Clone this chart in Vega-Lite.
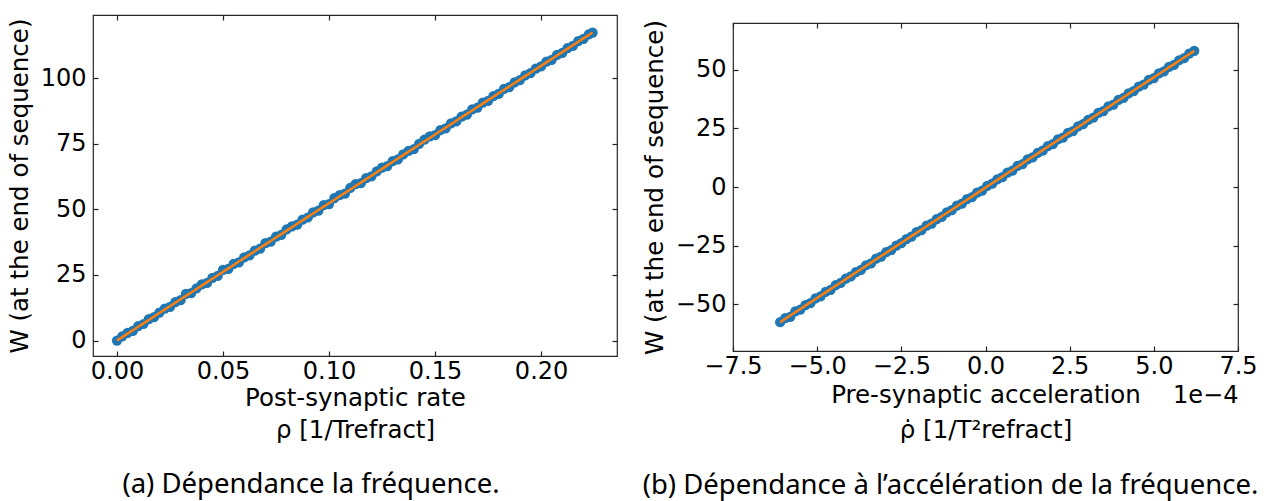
{
  "$schema": "https://vega.github.io/schema/vega-lite/v6.json",
  "background": "white",
  "padding": {"left": 6, "top": 12, "right": 5, "bottom": 2},
  "bounds": "full",
  "spacing": 22,
  "config": {
    "font": "DejaVu Sans",
    "view": {"stroke": "#262626", "strokeWidth": 1.2},
    "axis": {
      "grid": false,
      "domain": false,
      "tickColor": "#222222",
      "tickWidth": 1.2,
      "tickSize": -5,
      "labelFont": "DejaVu Sans",
      "labelFontSize": 24,
      "labelColor": "#000000",
      "titleFont": "DejaVu Sans",
      "titleFontSize": 24.5,
      "titleFontWeight": "normal",
      "titleColor": "#000000",
      "labelFlush": false,
      "labelOverlap": false
    }
  },
  "datasets": {
    "a": [
      {"x": 0.0000, "w": 0.0, "fit": 0.0},
      {"x": 0.0025, "w": 1.6, "fit": 1.31},
      {"x": 0.0050, "w": 2.9, "fit": 2.62},
      {"x": 0.0075, "w": 3.7, "fit": 3.93},
      {"x": 0.0100, "w": 5.5, "fit": 5.24},
      {"x": 0.0125, "w": 6.3, "fit": 6.55},
      {"x": 0.0150, "w": 8.2, "fit": 7.85},
      {"x": 0.0175, "w": 8.9, "fit": 9.16},
      {"x": 0.0200, "w": 10.6, "fit": 10.47},
      {"x": 0.0225, "w": 12.2, "fit": 11.78},
      {"x": 0.0250, "w": 12.8, "fit": 13.09},
      {"x": 0.0275, "w": 14.6, "fit": 14.40},
      {"x": 0.0300, "w": 15.4, "fit": 15.71},
      {"x": 0.0325, "w": 17.8, "fit": 17.02},
      {"x": 0.0350, "w": 18.1, "fit": 18.33},
      {"x": 0.0375, "w": 19.9, "fit": 19.64},
      {"x": 0.0400, "w": 21.4, "fit": 20.94},
      {"x": 0.0425, "w": 22.0, "fit": 22.25},
      {"x": 0.0450, "w": 23.9, "fit": 23.56},
      {"x": 0.0475, "w": 24.6, "fit": 24.87},
      {"x": 0.0500, "w": 26.9, "fit": 26.18},
      {"x": 0.0525, "w": 27.3, "fit": 27.49},
      {"x": 0.0550, "w": 29.2, "fit": 28.80},
      {"x": 0.0575, "w": 29.8, "fit": 30.11},
      {"x": 0.0600, "w": 31.7, "fit": 31.42},
      {"x": 0.0625, "w": 32.5, "fit": 32.73},
      {"x": 0.0650, "w": 34.3, "fit": 34.03},
      {"x": 0.0675, "w": 35.0, "fit": 35.34},
      {"x": 0.0700, "w": 37.1, "fit": 36.65},
      {"x": 0.0725, "w": 37.7, "fit": 37.96},
      {"x": 0.0750, "w": 39.6, "fit": 39.27},
      {"x": 0.0775, "w": 40.3, "fit": 40.58},
      {"x": 0.0800, "w": 42.4, "fit": 41.89},
      {"x": 0.0825, "w": 43.5, "fit": 43.20},
      {"x": 0.0850, "w": 44.2, "fit": 44.51},
      {"x": 0.0875, "w": 46.1, "fit": 45.82},
      {"x": 0.0900, "w": 46.9, "fit": 47.12},
      {"x": 0.0925, "w": 48.9, "fit": 48.43},
      {"x": 0.0950, "w": 49.5, "fit": 49.74},
      {"x": 0.0975, "w": 51.6, "fit": 51.05},
      {"x": 0.1000, "w": 52.0, "fit": 52.36},
      {"x": 0.1025, "w": 54.3, "fit": 53.67},
      {"x": 0.1050, "w": 55.4, "fit": 54.98},
      {"x": 0.1075, "w": 56.0, "fit": 56.29},
      {"x": 0.1100, "w": 58.2, "fit": 57.60},
      {"x": 0.1125, "w": 59.6, "fit": 58.91},
      {"x": 0.1150, "w": 60.0, "fit": 60.21},
      {"x": 0.1175, "w": 61.9, "fit": 61.52},
      {"x": 0.1200, "w": 62.6, "fit": 62.83},
      {"x": 0.1225, "w": 64.5, "fit": 64.14},
      {"x": 0.1250, "w": 65.9, "fit": 65.45},
      {"x": 0.1275, "w": 66.5, "fit": 66.76},
      {"x": 0.1300, "w": 68.4, "fit": 68.07},
      {"x": 0.1325, "w": 69.1, "fit": 69.38},
      {"x": 0.1350, "w": 71.0, "fit": 70.69},
      {"x": 0.1375, "w": 72.3, "fit": 72.00},
      {"x": 0.1400, "w": 73.0, "fit": 73.30},
      {"x": 0.1425, "w": 75.0, "fit": 74.61},
      {"x": 0.1450, "w": 76.6, "fit": 75.92},
      {"x": 0.1475, "w": 77.8, "fit": 77.23},
      {"x": 0.1500, "w": 78.3, "fit": 78.54},
      {"x": 0.1525, "w": 80.2, "fit": 79.85},
      {"x": 0.1550, "w": 80.9, "fit": 81.16},
      {"x": 0.1575, "w": 82.8, "fit": 82.47},
      {"x": 0.1600, "w": 83.5, "fit": 83.78},
      {"x": 0.1625, "w": 85.4, "fit": 85.09},
      {"x": 0.1650, "w": 86.1, "fit": 86.39},
      {"x": 0.1675, "w": 88.1, "fit": 87.70},
      {"x": 0.1700, "w": 88.8, "fit": 89.01},
      {"x": 0.1725, "w": 90.7, "fit": 90.32},
      {"x": 0.1750, "w": 91.4, "fit": 91.63},
      {"x": 0.1775, "w": 93.2, "fit": 92.94},
      {"x": 0.1800, "w": 94.0, "fit": 94.25},
      {"x": 0.1825, "w": 95.9, "fit": 95.56},
      {"x": 0.1850, "w": 96.6, "fit": 96.87},
      {"x": 0.1875, "w": 98.4, "fit": 98.18},
      {"x": 0.1900, "w": 99.3, "fit": 99.48},
      {"x": 0.1925, "w": 101.1, "fit": 100.79},
      {"x": 0.1950, "w": 101.9, "fit": 102.10},
      {"x": 0.1975, "w": 103.7, "fit": 103.41},
      {"x": 0.2000, "w": 104.5, "fit": 104.72},
      {"x": 0.2025, "w": 106.3, "fit": 106.03},
      {"x": 0.2050, "w": 107.0, "fit": 107.34},
      {"x": 0.2075, "w": 108.9, "fit": 108.65},
      {"x": 0.2100, "w": 109.7, "fit": 109.96},
      {"x": 0.2125, "w": 111.5, "fit": 111.27},
      {"x": 0.2150, "w": 112.3, "fit": 112.57},
      {"x": 0.2175, "w": 114.1, "fit": 113.88},
      {"x": 0.2200, "w": 115.0, "fit": 115.19},
      {"x": 0.2225, "w": 116.7, "fit": 116.50},
      {"x": 0.2243, "w": 117.4, "fit": 117.44}
    ],
    "b": [
      {"x": -6.10, "w": -57.7, "fit": -57.70},
      {"x": -5.95, "w": -56.0, "fit": -56.29},
      {"x": -5.80, "w": -55.4, "fit": -54.88},
      {"x": -5.65, "w": -53.1, "fit": -53.46},
      {"x": -5.50, "w": -52.3, "fit": -52.05},
      {"x": -5.35, "w": -50.4, "fit": -50.64},
      {"x": -5.20, "w": -49.6, "fit": -49.23},
      {"x": -5.05, "w": -47.5, "fit": -47.81},
      {"x": -4.90, "w": -46.7, "fit": -46.40},
      {"x": -4.75, "w": -44.8, "fit": -44.99},
      {"x": -4.60, "w": -43.9, "fit": -43.58},
      {"x": -4.45, "w": -41.9, "fit": -42.17},
      {"x": -4.30, "w": -40.9, "fit": -40.75},
      {"x": -4.15, "w": -39.1, "fit": -39.34},
      {"x": -4.00, "w": -38.2, "fit": -37.93},
      {"x": -3.85, "w": -36.3, "fit": -36.52},
      {"x": -3.70, "w": -35.4, "fit": -35.10},
      {"x": -3.55, "w": -33.4, "fit": -33.69},
      {"x": -3.40, "w": -32.6, "fit": -32.28},
      {"x": -3.25, "w": -30.6, "fit": -30.87},
      {"x": -3.10, "w": -29.7, "fit": -29.46},
      {"x": -2.95, "w": -27.8, "fit": -28.04},
      {"x": -2.80, "w": -26.9, "fit": -26.63},
      {"x": -2.65, "w": -25.0, "fit": -25.22},
      {"x": -2.50, "w": -24.0, "fit": -23.81},
      {"x": -2.35, "w": -22.2, "fit": -22.39},
      {"x": -2.20, "w": -21.2, "fit": -20.98},
      {"x": -2.05, "w": -19.3, "fit": -19.57},
      {"x": -1.90, "w": -18.4, "fit": -18.16},
      {"x": -1.75, "w": -16.5, "fit": -16.74},
      {"x": -1.60, "w": -15.6, "fit": -15.33},
      {"x": -1.45, "w": -13.7, "fit": -13.92},
      {"x": -1.30, "w": -12.8, "fit": -12.51},
      {"x": -1.15, "w": -10.8, "fit": -11.10},
      {"x": -1.00, "w": -9.9, "fit": -9.68},
      {"x": -0.85, "w": -8.0, "fit": -8.27},
      {"x": -0.70, "w": -7.1, "fit": -6.86},
      {"x": -0.55, "w": -5.2, "fit": -5.45},
      {"x": -0.40, "w": -4.3, "fit": -4.03},
      {"x": -0.25, "w": -2.4, "fit": -2.62},
      {"x": -0.10, "w": -1.5, "fit": -1.21},
      {"x": 0.05, "w": 0.5, "fit": 0.20},
      {"x": 0.20, "w": 1.4, "fit": 1.61},
      {"x": 0.35, "w": 3.3, "fit": 3.03},
      {"x": 0.50, "w": 4.2, "fit": 4.44},
      {"x": 0.65, "w": 6.1, "fit": 5.85},
      {"x": 0.80, "w": 7.0, "fit": 7.26},
      {"x": 0.95, "w": 9.0, "fit": 8.67},
      {"x": 1.10, "w": 9.8, "fit": 10.09},
      {"x": 1.25, "w": 11.8, "fit": 11.50},
      {"x": 1.40, "w": 12.6, "fit": 12.91},
      {"x": 1.55, "w": 14.6, "fit": 14.32},
      {"x": 1.70, "w": 15.5, "fit": 15.74},
      {"x": 1.85, "w": 17.4, "fit": 17.15},
      {"x": 2.00, "w": 18.3, "fit": 18.56},
      {"x": 2.15, "w": 20.3, "fit": 19.97},
      {"x": 2.30, "w": 21.1, "fit": 21.38},
      {"x": 2.45, "w": 23.1, "fit": 22.80},
      {"x": 2.60, "w": 23.9, "fit": 24.21},
      {"x": 2.75, "w": 25.9, "fit": 25.62},
      {"x": 2.90, "w": 26.8, "fit": 27.03},
      {"x": 3.05, "w": 28.7, "fit": 28.45},
      {"x": 3.20, "w": 29.6, "fit": 29.86},
      {"x": 3.35, "w": 31.6, "fit": 31.27},
      {"x": 3.50, "w": 32.4, "fit": 32.68},
      {"x": 3.65, "w": 34.4, "fit": 34.09},
      {"x": 3.80, "w": 35.2, "fit": 35.51},
      {"x": 3.95, "w": 37.2, "fit": 36.92},
      {"x": 4.10, "w": 38.0, "fit": 38.33},
      {"x": 4.25, "w": 40.0, "fit": 39.74},
      {"x": 4.40, "w": 40.9, "fit": 41.16},
      {"x": 4.55, "w": 42.8, "fit": 42.57},
      {"x": 4.70, "w": 43.7, "fit": 43.98},
      {"x": 4.85, "w": 45.7, "fit": 45.39},
      {"x": 5.00, "w": 46.5, "fit": 46.80},
      {"x": 5.15, "w": 48.5, "fit": 48.22},
      {"x": 5.30, "w": 49.3, "fit": 49.63},
      {"x": 5.45, "w": 51.3, "fit": 51.04},
      {"x": 5.60, "w": 52.1, "fit": 52.45},
      {"x": 5.75, "w": 54.1, "fit": 53.87},
      {"x": 5.90, "w": 55.0, "fit": 55.28},
      {"x": 6.05, "w": 56.9, "fit": 56.69},
      {"x": 6.20, "w": 58.1, "fit": 58.10}
    ]
  },
  "hconcat": [
    {
      "width": 524,
      "height": 341,
      "data": {"name": "a"},
      "title": {"text": "(a) Dépendance la fréquence.", "orient": "bottom", "anchor": "middle", "frame": "group", "font": "Noto Sans", "fontSize": 27.5, "fontWeight": "normal", "color": "#000000", "dx": -44, "offset": 29},
      "resolve": {"axis": {"x": "independent", "y": "independent"}},
      "layer": [
        {
          "mark": {"type": "point", "filled": true, "size": 105, "opacity": 1, "color": "#1f77b4"},
          "encoding": {
            "x": {"field": "x", "type": "quantitative", "scale": {"domain": [-0.0113, 0.2358], "nice": false, "zero": false},
                  "axis": {"orient": "bottom", "values": [0, 0.05, 0.1, 0.15, 0.2], "format": ".2f", "labelPadding": 8, "title": ["Post-synaptic rate", "ρ [1/Trefract]"], "titleLineHeight": 32, "titlePadding": 3}},
            "y": {"field": "w", "type": "quantitative", "scale": {"domain": [-5.9, 124.1], "nice": false, "zero": false},
                  "axis": {"orient": "left", "values": [0, 25, 50, 75, 100], "labelPadding": 12, "title": "W (at the end of sequence)", "titlePadding": 8}}
          }
        },
        {
          "mark": {"type": "line", "color": "#ff7f0e", "strokeWidth": 2.5},
          "encoding": {
            "x": {"field": "x", "type": "quantitative", "axis": {"orient": "top", "values": [0, 0.05, 0.1, 0.15, 0.2], "labels": false, "title": null}},
            "y": {"field": "fit", "type": "quantitative", "axis": {"orient": "right", "values": [0, 25, 50, 75, 100], "labels": false, "title": null}}
          }
        }
      ]
    },
    {
      "spacing": 7,
      "bounds": "flush",
      "vconcat": [
        {
          "width": 505,
          "height": 1,
          "data": {"values": [{"x": 0}]},
          "view": {"stroke": null},
          "mark": {"type": "point", "opacity": 0},
          "encoding": {}
        },
        {
          "width": 505,
          "height": 328,
          "data": {"name": "b"},
          "title": {"text": "(b) Dépendance à l’accélération de la fréquence.", "orient": "bottom", "anchor": "middle", "frame": "group", "font": "Noto Sans", "fontSize": 27.5, "fontWeight": "normal", "color": "#000000", "dx": -35, "offset": 30},
          "resolve": {"axis": {"x": "independent", "y": "independent"}},
          "layer": [
            {
              "mark": {"type": "point", "filled": true, "size": 105, "opacity": 1, "color": "#1f77b4"},
              "encoding": {
                "x": {"field": "x", "type": "quantitative", "scale": {"domain": [-7.5, 7.5], "nice": false, "zero": false},
                      "axis": {"orient": "bottom", "values": [-7.5, -5, -2.5, 0, 2.5, 5, 7.5], "format": ".1f", "labelPadding": 8, "title": ["Pre-synaptic acceleration", "ρ̇ [1/T²refract]"], "titleLineHeight": 35, "titlePadding": 5}},
                "y": {"field": "w", "type": "quantitative", "scale": {"domain": [-70, 70], "nice": false, "zero": false},
                      "axis": {"orient": "left", "values": [-50, -25, 0, 25, 50], "labelPadding": 12, "title": "W (at the end of sequence)", "titlePadding": 8}}
              }
            },
            {
              "mark": {"type": "line", "color": "#ff7f0e", "strokeWidth": 2.5},
              "encoding": {
                "x": {"field": "x", "type": "quantitative", "axis": {"orient": "top", "values": [-7.5, -5, -2.5, 0, 2.5, 5, 7.5], "labels": false, "title": null}},
                "y": {"field": "fit", "type": "quantitative", "axis": {"orient": "right", "values": [-50, -25, 0, 25, 50], "labels": false, "title": null}}
              }
            },
            {
              "mark": {"type": "point", "opacity": 0},
              "encoding": {
                "x": {"field": "x", "type": "quantitative", "axis": {"orient": "bottom", "labels": false, "ticks": false, "title": "1e−4", "titleAnchor": "end", "titleAlign": "right", "titleFontSize": 24, "titlePadding": 32}}
              }
            }
          ]
        }
      ]
    }
  ]
}
